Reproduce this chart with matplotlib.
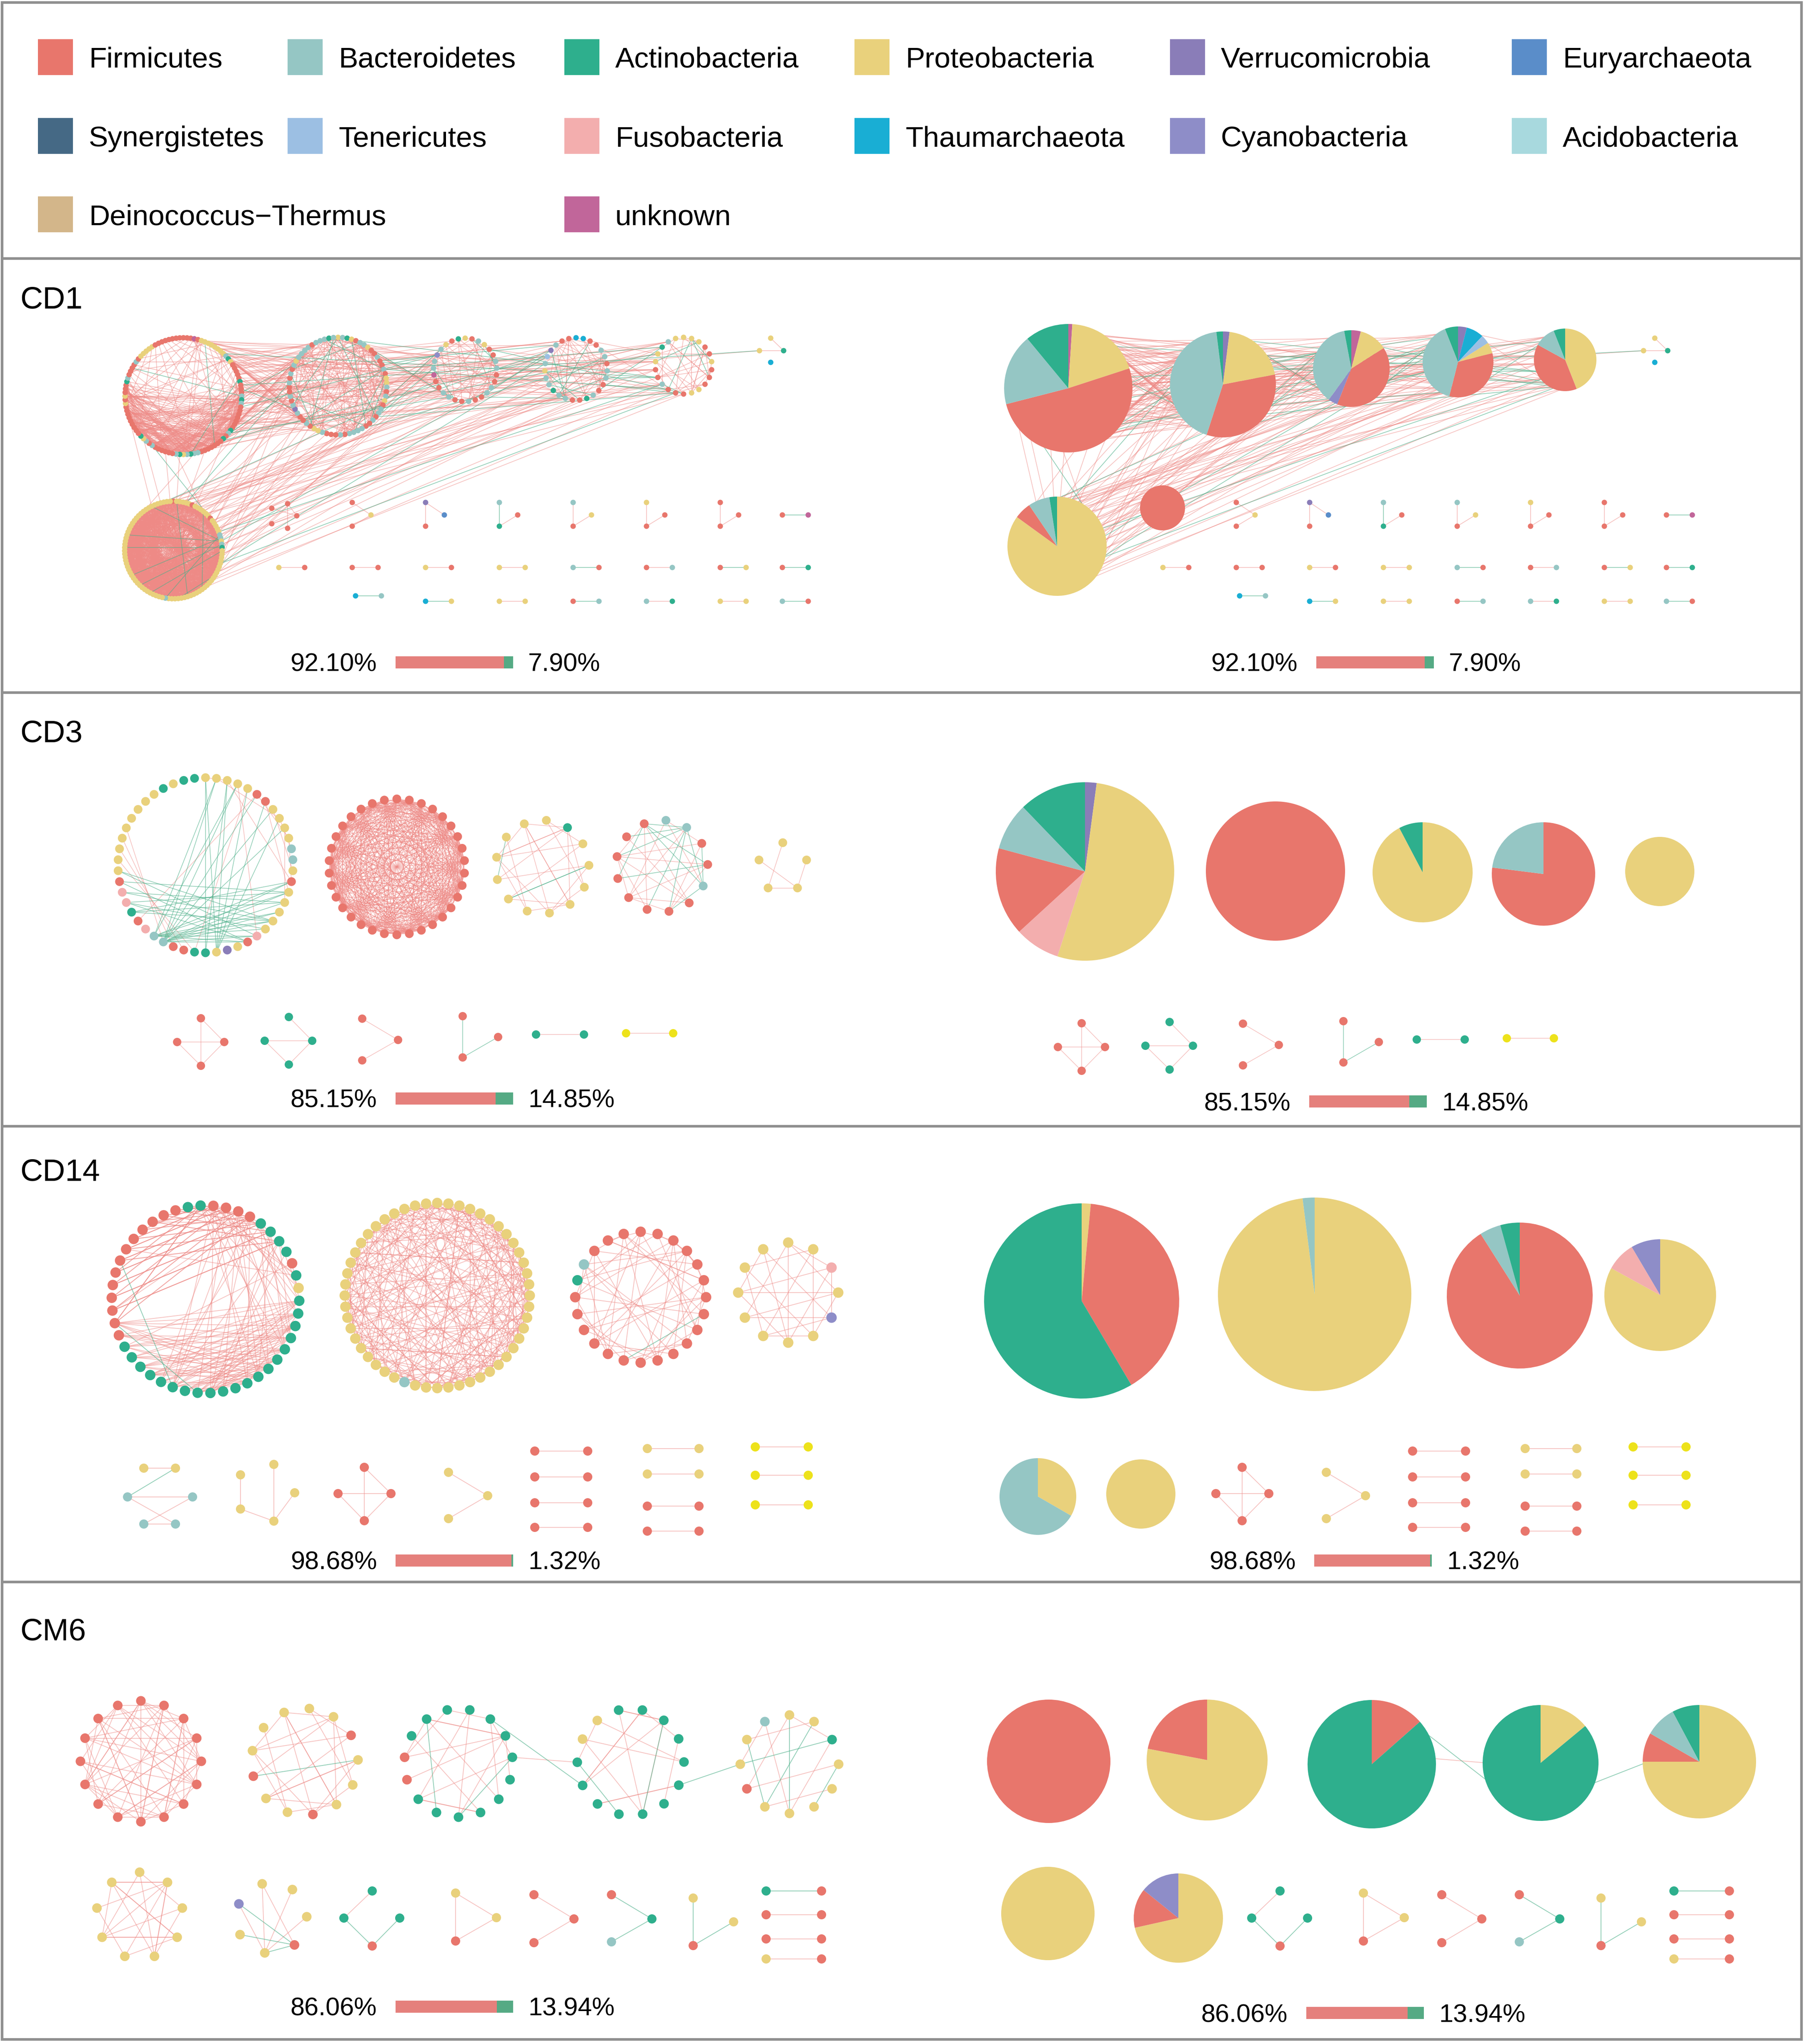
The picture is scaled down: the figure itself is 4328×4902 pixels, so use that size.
import numpy as np
import matplotlib
matplotlib.use('Agg')
import matplotlib.pyplot as plt
from matplotlib.collections import LineCollection
from matplotlib.patches import Rectangle

plt.rcParams['font.family'] = ['Liberation Sans', 'DejaVu Sans']

W, H = 4328, 4902

# ============================ DATA ============================
PHYLA = ['Firmicutes', 'Bacteroidetes', 'Actinobacteria', 'Proteobacteria',
         'Verrucomicrobia', 'Euryarchaeota', 'Synergistetes', 'Tenericutes',
         'Fusobacteria', 'Thaumarchaeota', 'Cyanobacteria', 'Acidobacteria',
         'Deinococcus\u2212Thermus', 'unknown']
PHYLA_CODES = ['F', 'B', 'A', 'P', 'V', 'E', 'S', 'T', 'U', 'H', 'C', 'D', 'K', 'N']
PHYLA_COLORS = ['#E8766C', '#95C6C4', '#2EAF8D', '#E9D17C', '#8A7DB8', '#5A8DC9',
                '#456985', '#9CBFE3', '#F3AEAE', '#19AED4', '#8E8DC8', '#A8D9DE',
                '#D3B68A', '#C1669A']
EXTRA_COLORS = {'Y': '#EDE21B'}

PANEL_NAMES = ['CD1', 'CD3', 'CD14', 'CM6']
POSITIVE_PCT = [92.10, 85.15, 98.68, 86.06]
NEGATIVE_PCT = [7.90, 14.85, 1.32, 13.94]

# ---- CD1 ----
CD1_MODULES = [
    "F3 N1 F1 P8 B1 A1 P1 F5 A1 F3 B1 A1 B1 F7 A1 B1 F1 A1 F7 B2 A1 B1 P1 A1 B1 F6 B1 F1 B1 P1 A1 "
    "F9 P1 F1 P1 F3 A1 B1 F4 B1 F1 P5 F8",
    "P1 B1 A1 P1 F1 B2 P1 F2 B1 F2 B1 F1 P2 B1 F1 B1 P1 F1 B2 F1 B1 F2 B4 F1 B1 F3 B1 P2 F1 B1 "
    "F2 B1 V1 B1 F1 B1 F2 B1 F1 B1 F1 B1 P1 B4 F1 B3 A1 B1",
    "P1 F1 B1 P1 F2 B2 F2 B2 F2 B1 F2 B2 F2 N1 B2 C1 B1 P1 F1 A1",
    "H2 F2 B2 F1 B2 F2 B1 A1 F2 B2 A1 B2 P1 B1 T1 V1 B1 F2",
    "P3 F2 P1 F3 P2 F3 B1 F2 P2 A1 B1 P1",
    "F1 P5 F1 P6 F1 P5 B2 P1 B1 A1 P26 B1 P44",
]
CD1_PIE_CODES = [['N', 'P', 'F', 'B', 'A'], ['V', 'P', 'F', 'B', 'A'],
                 ['N', 'P', 'F', 'C', 'B', 'A'], ['V', 'H', 'T', 'P', 'F', 'B', 'A'],
                 ['P', 'F', 'B', 'A'], ['P', 'F', 'B', 'A']]
CD1_PIE_VALUES = [[1, 19, 51, 18, 11], [2, 20, 33, 43, 2], [4, 12, 40, 4, 37, 3],
                  [4, 8, 4, 5, 33, 40, 6], [44, 39, 11, 6], [85, 5.5, 7, 2.5]]
CD1_EDGE_COUNTS = [(80, 4), (150, 12), (40, 6), (40, 8), (30, 6), (800, 4)]
CD1_SMALL_CODES = ['PPAH', 'FFFFF', 'FPF', 'VEF', 'BFA', 'BPF', 'PFF', 'FFF', 'FN',
                   'PF', 'FF', 'PF', 'PP', 'BF', 'FB', 'FP', 'FA',
                   'HB', 'HP', 'PP', 'FB', 'BA', 'PP', 'BF']
CD1_SMALL_SIGNS = [['+', '+'], ['+', '+', '+', '+'], ['+', '+'], ['+', '+'], ['-', '+'],
                   ['+', '+'], ['+', '+'], ['+', '+'], ['-'],
                   ['+'], ['+'], ['+'], ['+'], ['-'], ['+'], ['-'], ['-'],
                   ['-'], ['-'], ['+'], ['-'], ['+'], ['+'], ['-']]
CD1_LINKS = [(0, 1, 80, 3), (0, 2, 15, 2), (0, 3, 10, 1), (0, 4, 8, 1),
             (1, 2, 12, 4), (1, 3, 10, 3), (1, 4, 8, 4), (2, 3, 6, 2), (3, 4, 6, 3),
             (2, 4, 4, 2), (5, 0, 8, 1), (5, 1, 18, 1), (5, 2, 12, 1), (5, 3, 14, 2),
             (5, 4, 12, 2), (0, 6, 1, 1)]

# ---- CD3 ----
CD3_MODULES = ["P5 F2 P4 B2 P1 F1 P5 U1 F1 P1 V1 P1 A2 F2 B2 U1 F1 A1 U2 F1 P9 A1 P1 A2",
               "F34", "P1 A1 P11", "B2 F2 B1 F8", "P5"]
CD3_PIE_CODES = [['V', 'P', 'U', 'F', 'B', 'A'], ['F'], ['P', 'A'], ['F', 'B'], ['P']]
CD3_PIE_VALUES = [[2.1, 52.9, 8.2, 16, 8.6, 12.2], [100], [92.3, 7.7], [77, 23], [100]]
CD3_EDGE_COUNTS = [(6, 0), (470, 0), (22, 3), (18, 12),
                   [(4, 2, '+'), (0, 3, '+'), (3, 2, '+'), (2, 1, '+')]]
CD3_SMALL_CODES = ['FFFF', 'AAAA', 'FFF', 'FFF', 'AA', 'YY']
CD3_SMALL_SIGNS = [['+'] * 5, ['+'] * 4, ['+', '+'], ['-', '-'], ['+'], ['+']]

# ---- CD14 ----
CD14_MODULES = ["A1 F4 A4 F1 A1 P1 A20 F13 A1", "P29 B1 P22", "F19 A1 B1 F3", "P2 U1 P1 C1 P7"]
CD14_PIE_CODES = [['P', 'F', 'A'], ['P', 'B'], ['F', 'B', 'A'], ['P', 'U', 'C']]
CD14_PIE_VALUES = [[1.5, 40, 58.5], [98, 2], [91, 4.7, 4.3], [83, 8.5, 8.5]]
CD14_EDGE_COUNTS = [(15, 0), (230, 0), (55, 1), (22, 0)]
CD14_SMALL_CODES = ['PPBBBB', 'PPPPP', 'FFFF', 'PPP',
                    'FF', 'FF', 'FF', 'FF', 'PP', 'PP', 'FF', 'FF', 'YY', 'YY', 'YY']
CD14_SMALL_SIGNS = [['+', '-', '+', '+', '+', '+'], ['+'] * 4, ['+'] * 5, ['+', '+']] + [['+']] * 11

# ---- CM6 ----
CM6_MODULES = ["F16", "P2 F1 P3 F1 P2 F1 P3", "A11 F2 A2", "A12 P2",
               "P2 A1 P5 F1 P2 B1", "P9", "P3 F1 P2 C1"]
CM6_PIE_CODES = [['F'], ['P', 'F'], ['F', 'A'], ['P', 'A'], ['P', 'F', 'B', 'A'], ['P'], ['P', 'F', 'C']]
CM6_PIE_VALUES = [[100], [78, 22], [13.5, 86.5], [14, 86], [75, 8.3, 8.9, 7.8], [100], [71.5, 14.3, 14.2]]
CM6_EDGE_COUNTS = [(60, 0), (22, 1), (18, 2), (15, 2), (8, 5), (20, 0),
                   [(6, 3, '-'), (6, 4, '+'), (0, 4, '+'), (1, 4, '+'), (2, 4, '+'),
                    (5, 3, '-'), (4, 3, '-'), (0, 3, '+')]]
CM6_SMALL_CODES = ['AAAF', 'PPF', 'FFF', 'FAB', 'PPF', 'AF', 'FF', 'FF', 'PF']
CM6_SMALL_SIGNS = [['+', '-', '-'], ['+', '+', '+'], ['+', '+'], ['-', '-'], ['-', '-'],
                   ['-'], ['+'], ['+'], ['+']]
CM6_NODE_LINKS = [(2, 4, 3, 11, '+'), (2, 2, 3, 10, '-'), (3, 5, 4, 9, '-')]

# ============================ LAYOUT ============================
def pairs(xs, ys, w):
    return [([(x, y), (x + w, y)], [(0, 1)], None) for x, y in zip(xs, ys)]

CD1_RING_LAYOUT = [((440, 950), 140, 0, {'step': 11, 'groups': [((22, 80), (22, 80), 280, '+')]}),
                   ((811, 926), 117, 0, {'step': 7}),
                   ((1116, 887), 76, 0, {}), ((1382, 885), 75, 0, {}), ((1640, 877), 68, 0, {}),
                   ((416, 1319), 117, 0, {'step': 13, 'groups': [((25, 95), (25, 95), 480, '+'),
                                                                  ((19, 25), (50, 80), 6, '-')]})]
CD1_PIE_LAYOUT = [(2563, 931, 154), (2934, 922, 127), (3242, 884, 92), (3498, 868, 85),
                  (3755, 863, 75), (2536, 1310, 119)]
CD1_SMALL_LAYOUT = [
    ([(1849, 811), (1822, 841), (1880, 841), (1849, 869)], [(0, 2), (1, 2)], None),
    ([(652, 1219), (690, 1208), (712, 1237), (652, 1256), (690, 1267)],
     [(0, 2), (1, 4), (3, 2), (1, 2)], (2789, 1218, 54)),
    ([(845, 1205), (890, 1235), (845, 1262)], [(0, 1), (1, 2)], None),
    ([(1021, 1205), (1066, 1235), (1021, 1262)], [(0, 2), (0, 1)], None),
    ([(1198, 1205), (1242, 1235), (1198, 1262)], [(0, 2), (2, 1)], None),
    ([(1375, 1205), (1419, 1235), (1375, 1262)], [(0, 2), (2, 1)], None),
    ([(1551, 1205), (1595, 1235), (1551, 1262)], [(0, 2), (2, 1)], None),
    ([(1728, 1205), (1772, 1235), (1728, 1262)], [(0, 2), (2, 1)], None),
    ([(1877, 1235), (1939, 1235)], [(0, 1)], None),
] + pairs([669, 845, 1021, 1198, 1375, 1551, 1728, 1877], [1361] * 8, 62) \
  + pairs([853, 1021, 1198, 1375, 1551, 1728, 1877], [1429] + [1442] * 6, 62)

CD3_RING_LAYOUT = [((493, 2075), 210, 0, {'step': 5, 'groups': [
                        ((29, 31), (14, 22), 14, '-'), ((33, 38), (14, 22), 12, '-'),
                        ((0, 10), (24, 34), 14, '-'), ((5, 11), (10, 17), 6, '+'),
                        ((38, 44), (26, 30), 4, '+')]}),
                   ((952, 2079), 163, 0, {'step': 5}),
                   ((1301, 2079), 112, 5, {}), ((1588, 2077), 110, 5, {'step': 5}),
                   ((1878, 2081), 60, 0, {})]
CD3_PIE_LAYOUT = [(2603, 2090, 214), (3060, 2089, 167), (3413, 2092, 120), (3703, 2096, 124), (3982, 2090, 83)]
CD3_SMALL_LAYOUT = [
    ([(482, 2442), (425, 2499), (538, 2499), (482, 2556)], [(0, 3), (1, 2), (0, 2), (1, 3), (2, 3)], None),
    ([(693, 2439), (635, 2496), (749, 2496), (693, 2553)], [(0, 2), (1, 2), (1, 3), (2, 3)], None),
    ([(869, 2443), (955, 2494), (869, 2543)], [(0, 1), (1, 2)], None),
    ([(1110, 2437), (1195, 2487), (1110, 2536)], [(0, 2), (2, 1)], None),
    ([(1286, 2481), (1401, 2481)], [(0, 1)], None),
    ([(1502, 2478), (1615, 2478)], [(0, 1)], None),
]

CD14_RING_LAYOUT = [((493, 3116), 225, -3, {'step': 7, 'groups': [
                         ((33, 46), (0, 8), 60, '+'), ((12, 21), (23, 34), 60, '+'),
                         ((0, 8), (10, 28), 30, '+'), ((33, 34), (24, 25), 1, '-'),
                         ((26, 30), (38, 44), 1, '-')]}),
                    ((1049, 3107), 222, 0, {'step': 11}),
                    ((1537, 3111), 157, 0, {'step': 5}), ((1891, 3100), 120, 0, {})]
CD14_PIE_LAYOUT = [(2595, 3120, 234), (3154, 3104, 232), (3646, 3107, 175), (3983, 3106, 134)]
CD14_SMALL_LAYOUT = [
    ([(345, 3521), (421, 3521), (306, 3590), (462, 3590), (345, 3655), (421, 3655)],
     [(0, 1), (1, 2), (2, 3), (2, 5), (3, 4), (4, 5)], (2490, 3589, 92)),
    ([(657, 3512), (577, 3537), (707, 3580), (577, 3619), (657, 3648)],
     [(1, 3), (0, 4), (3, 4), (2, 4)], (2737, 3583, 83)),
    ([(874, 3519), (811, 3582), (938, 3582), (874, 3647)], [(0, 3), (1, 2), (0, 2), (1, 3), (2, 3)], None),
    ([(1076, 3531), (1170, 3587), (1076, 3642)], [(0, 1), (1, 2)], None),
] + pairs([1283] * 4, [3480, 3542, 3604, 3663], 127) \
  + pairs([1553] * 4, [3474, 3535, 3612, 3672], 124) \
  + pairs([1812] * 3, [3470, 3538, 3609], 127)

CM6_RING_LAYOUT = [((338, 4224), 145, 0, {'step': 5}), ((731, 4225), 128, 5, {}),
                   ((1100, 4228), 130, -12, {}), ((1513, 4226), 128, -13, {}),
                   ((1894, 4231), 118, 0, {}), ((335, 4594), 104, 0, {}), ((651, 4600), 85, -15, {})]
CM6_PIE_LAYOUT = [(2516, 4224, 148), (2896, 4221, 145), (3291, 4231, 154), (3696, 4228, 139),
                  (4077, 4225, 136), (2514, 4589, 112), (2827, 4600, 107)]
CM6_SMALL_LAYOUT = [
    ([(893, 4535), (825, 4600), (959, 4600), (893, 4667)], [(0, 1), (1, 3), (2, 3)], None),
    ([(1093, 4540), (1191, 4599), (1093, 4655)], [(0, 2), (0, 1), (2, 1)], None),
    ([(1281, 4544), (1377, 4602), (1281, 4659)], [(0, 1), (1, 2)], None),
    ([(1467, 4544), (1564, 4602), (1467, 4657)], [(0, 1), (1, 2)], None),
    ([(1663, 4552), (1760, 4609), (1663, 4666)], [(0, 2), (2, 1)], None),
] + pairs([1838] * 4, [4535, 4592, 4650, 4698], 133)

PANELS = [
    dict(label_y=713, node_px=13, comp_px=13, dx=2121, dy=0, lw=1.3,
         modules=CD1_MODULES, pie_codes=CD1_PIE_CODES, pie_vals=CD1_PIE_VALUES,
         edge_counts=CD1_EDGE_COUNTS, rings=CD1_RING_LAYOUT, pies=CD1_PIE_LAYOUT,
         small=CD1_SMALL_LAYOUT, small_codes=CD1_SMALL_CODES, small_signs=CD1_SMALL_SIGNS,
         links=CD1_LINKS, node_links=[], bars=((949, 1588), (3158, 1588))),
    dict(label_y=1752, node_px=21, comp_px=20, dx=2113, dy=12, lw=1.2,
         modules=CD3_MODULES, pie_codes=CD3_PIE_CODES, pie_vals=CD3_PIE_VALUES,
         edge_counts=CD3_EDGE_COUNTS, rings=CD3_RING_LAYOUT, pies=CD3_PIE_LAYOUT,
         small=CD3_SMALL_LAYOUT, small_codes=CD3_SMALL_CODES, small_signs=CD3_SMALL_SIGNS,
         links=[], node_links=[], bars=((949, 2634), (3141, 2641))),
    dict(label_y=2805, node_px=25, comp_px=22, dx=2106, dy=0, lw=1.4,
         modules=CD14_MODULES, pie_codes=CD14_PIE_CODES, pie_vals=CD14_PIE_VALUES,
         edge_counts=CD14_EDGE_COUNTS, rings=CD14_RING_LAYOUT, pies=CD14_PIE_LAYOUT,
         small=CD14_SMALL_LAYOUT, small_codes=CD14_SMALL_CODES, small_signs=CD14_SMALL_SIGNS,
         links=[], node_links=[], bars=((949, 3742), (3153, 3742))),
    dict(label_y=3907, node_px=23, comp_px=22, dx=2178, dy=0, lw=1.4,
         modules=CM6_MODULES, pie_codes=CM6_PIE_CODES, pie_vals=CM6_PIE_VALUES,
         edge_counts=CM6_EDGE_COUNTS, rings=CM6_RING_LAYOUT, pies=CM6_PIE_LAYOUT,
         small=CM6_SMALL_LAYOUT, small_codes=CM6_SMALL_CODES, small_signs=CM6_SMALL_SIGNS,
         links=[], node_links=CM6_NODE_LINKS, bars=((949, 4812), (3134, 4827))),
]

LEGEND_COL_X = [91, 690, 1354, 2050, 2807, 3627]
LEGEND_ROW_Y = [137, 326, 514]
LEGEND_SLOTS = [(r, c) for r in range(2) for c in range(6)] + [(2, 0), (2, 2)]
SEPARATORS_Y = [620, 1661, 2701, 3794]
BAR_W, BAR_H = 282, 29
POS_EDGE, NEG_EDGE = '#EE8A86', '#4DB08A'
BAR_POS, BAR_NEG = '#E5807C', '#55AA84'
FRAME = '#8F8F8F'

CODE_COLOR = dict(zip(PHYLA_CODES, PHYLA_COLORS))
CODE_COLOR.update(EXTRA_COLORS)


# ============================ HELPERS ============================
def parse_seq(s):
    out = []
    for tok in s.split():
        out += [tok[0]] * int(tok[1:])
    return out


def spread_signs(total, nneg):
    return ['-' if nneg and (k * nneg) // total != ((k + 1) * nneg) // total else '+'
            for k in range(total)]


def ring_edges(n, npos, nneg, step=7, spans=None, groups=None):
    edges = []
    if spans is not None:
        for s in spans:
            for i in range(n):
                edges.append((i, (i + s) % n, '+'))
        return edges
    if n < 4:
        return [(i, i + 1, '+') for i in range(n - 1)]
    ngen = npos + nneg
    signs = spread_signs(max(ngen, 1), nneg)
    m = n - 3
    for k in range(ngen):
        i = k % n
        j = (i + 2 + (k * step + k // n) % m) % n
        edges.append((i, j, signs[k]))
    for (a0, a1), (b0, b1), cnt, sg in (groups or []):
        A, B = list(range(a0, a1)), list(range(b0, b1))
        for k in range(cnt):
            i = A[k % len(A)]
            j = B[(k * step + k // len(A)) % len(B)]
            if abs(i - j) < 2:
                j = B[(k * step + k // len(A) + len(B) // 2) % len(B)]
            edges.append((i, j, sg))
    return edges


def node_size(px):
    return (px * 0.72) ** 2


def facing(comp, target, thr=0.3):
    d = np.asarray(target, float) - comp['center']
    d /= np.linalg.norm(d)
    v = comp['P'] - comp['center']
    nv = np.linalg.norm(v, axis=1)
    nv[nv == 0] = 1
    dots = (v @ d) / nv
    order = np.argsort(-dots)
    sel = [int(i) for i in order if dots[i] > thr]
    return sel if sel else [int(order[0])]


def build(panel):
    comps = []
    for seq, (ctr, r, start, opts), pie, pc, pv, ec in zip(
            panel['modules'], panel['rings'], panel['pies'], panel['pie_codes'],
            panel['pie_vals'], panel['edge_counts']):
        codes = parse_seq(seq)
        n = len(codes)
        ang = np.deg2rad(start + 360.0 * np.arange(n) / n)
        c = np.array(ctr, float)
        P = np.column_stack([c[0] + r * np.sin(ang), c[1] - r * np.cos(ang)])
        E = ec if isinstance(ec, list) else ring_edges(n, ec[0], ec[1], **opts)
        Pr = np.array(pie[:2], float) + (P - c) / r * pie[2] * 0.9
        comps.append(dict(P=P, codes=codes, E=E, Pr=Pr, center=c, pie=pie,
                          pie_codes=pc, pie_vals=pv, px=panel['node_px']))
    for (nodes, edges, pie), codes, signs in zip(panel['small'], panel['small_codes'],
                                                  panel['small_signs']):
        P = np.array(nodes, float)
        c = P.mean(axis=0)
        E = [(i, j, s) for (i, j), s in zip(edges, signs)]
        codes = list(codes)
        if pie is not None:
            rad = max(np.max(np.linalg.norm(P - c, axis=1)), 1.0)
            Pr = np.array(pie[:2], float) + (P - c) / rad * pie[2] * 0.8
            uniq = list(dict.fromkeys(codes))
            comps.append(dict(P=P, codes=codes, E=E, Pr=Pr, center=c, pie=pie,
                              pie_codes=uniq, pie_vals=[codes.count(k) for k in uniq],
                              px=panel['comp_px']))
        else:
            Pr = P + np.array([panel['dx'], panel['dy']], float)
            comps.append(dict(P=P, codes=codes, E=E, Pr=Pr, center=c, pie=None,
                              px=panel['comp_px']))
    links = []
    for a, b, npos, nneg in panel['links']:
        A = facing(comps[a], comps[b]['center'])
        B = facing(comps[b], comps[a]['center'])
        tot = npos + nneg
        signs = spread_signs(tot, nneg)
        for k in range(tot):
            links.append((a, A[(k * 3) % len(A)], b, B[(k * 7 + k // len(B)) % len(B)], signs[k]))
    links += list(panel['node_links'])
    return comps, links


# ============================ DRAW ============================
fig = plt.figure(figsize=(W / 100, H / 100), dpi=100)
ax = fig.add_axes([0, 0, 1, 1])
ax.set_xlim(0, W)
ax.set_ylim(H, 0)
ax.set_axis_off()

# frame
ax.add_patch(Rectangle((5, 6), W - 11, 4885, fill=False, ec=FRAME, lw=4.5, zorder=10))
ax.hlines(SEPARATORS_Y, 5, W - 6, color=FRAME, lw=4.5, zorder=10)

# legend
for (r, c), name, code in zip(LEGEND_SLOTS, PHYLA, PHYLA_CODES):
    x, y = LEGEND_COL_X[c], LEGEND_ROW_Y[r]
    ax.add_patch(Rectangle((x, y - 43), 84, 86, color=CODE_COLOR[code], lw=0))
    ax.text(x + 122, y + 25, name, fontsize=50, ha='left', va='baseline')

for panel, name, pos, neg in zip(PANELS, PANEL_NAMES, POSITIVE_PCT, NEGATIVE_PCT):
    comps, links = build(panel)
    lw = panel['lw']
    ax.text(48, panel['label_y'] + 27, name, fontsize=54, ha='left', va='baseline')

    # ---- left: full network ----
    segs = {'+': [], '-': []}
    for cp in comps:
        for i, j, s in cp['E']:
            segs[s].append([cp['P'][i], cp['P'][j]])
    for a, ia, b, ib, s in links:
        segs[s].append([comps[a]['P'][ia], comps[b]['P'][ib]])
    ax.add_collection(LineCollection(segs['+'], colors=POS_EDGE, linewidths=lw, alpha=0.5, zorder=2))
    ax.add_collection(LineCollection(segs['-'], colors=NEG_EDGE, linewidths=lw, alpha=0.6, zorder=2.1))
    for cp in comps:
        ax.scatter(cp['P'][:, 0], cp['P'][:, 1], s=node_size(cp['px']),
                   c=[CODE_COLOR[k] for k in cp['codes']], linewidths=0, zorder=4)

    # ---- right: modules as pies ----
    rsegs = {'+': [], '-': []}
    for a, ia, b, ib, s in links:
        rsegs[s].append([comps[a]['Pr'][ia], comps[b]['Pr'][ib]])
    for cp in comps:
        if cp['pie'] is None:
            for i, j, s in cp['E']:
                rsegs[s].append([cp['Pr'][i], cp['Pr'][j]])
    ax.add_collection(LineCollection(rsegs['+'], colors=POS_EDGE, linewidths=lw, alpha=0.5, zorder=1))
    ax.add_collection(LineCollection(rsegs['-'], colors=NEG_EDGE, linewidths=lw, alpha=0.6, zorder=1.1))
    for cp in comps:
        if cp['pie'] is not None:
            cx, cy, pr = cp['pie']
            wedges, _ = ax.pie(cp['pie_vals'], colors=[CODE_COLOR[k] for k in cp['pie_codes']],
                               startangle=-90, counterclock=True, center=(cx, cy), radius=pr,
                               frame=True, wedgeprops=dict(linewidth=0))
            for w in wedges:
                w.set_zorder(3)
        else:
            ax.scatter(cp['Pr'][:, 0], cp['Pr'][:, 1], s=node_size(cp['px']),
                       c=[CODE_COLOR[k] for k in cp['codes']], linewidths=0, zorder=4)

    # ---- positive / negative bars ----
    for bx, by in panel['bars']:
        ax.barh(by, BAR_W * pos / 100, left=bx, height=BAR_H, color=BAR_POS, lw=0, zorder=5)
        ax.barh(by, BAR_W * neg / 100, left=bx + BAR_W * pos / 100, height=BAR_H,
                color=BAR_NEG, lw=0, zorder=5)
        ax.text(bx - 45, by + 22, f'{pos:.2f}%', fontsize=44, ha='right', va='baseline')
        ax.text(bx + BAR_W + 36, by + 22, f'{neg:.2f}%', fontsize=44, ha='left', va='baseline')

ax.set_xlim(0, W)
ax.set_ylim(H, 0)
ax.set_aspect('auto')
ax.set_position([0, 0, 1, 1])
fig.savefig('out.png', dpi=100)
